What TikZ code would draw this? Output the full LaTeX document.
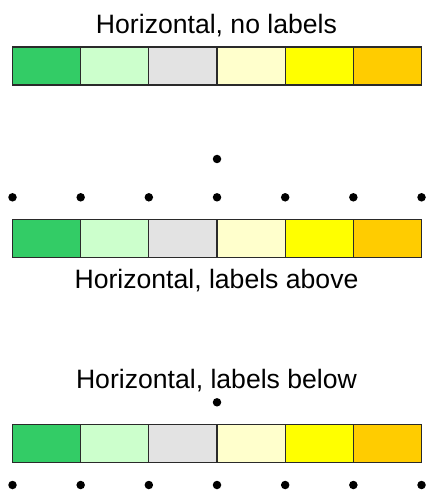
\documentclass[tikz,border=0pt]{standalone}
\usepackage{fontspec}
\setmainfont{Liberation Sans}
\definecolor{c1}{HTML}{33CC66}
\definecolor{c2}{HTML}{CCFFCC}
\definecolor{c3}{HTML}{E3E3E3}
\definecolor{c4}{HTML}{FFFFCC}
\definecolor{c5}{HTML}{FFFF00}
\definecolor{c6}{HTML}{FFCC00}
\definecolor{edge}{HTML}{2A2A2A}
\begin{document}
\begin{tikzpicture}[x=1bp,y=-1bp,
  cell/.style={draw=edge,line width=1.3bp,minimum width=68.17bp,minimum height=38bp,inner sep=0pt,outer sep=0pt,anchor=north west},
  title/.style={font=\fontsize{26.6bp}{30bp}\selectfont,anchor=base,inner sep=0pt},
  tick/.style={circle,fill=black,inner sep=0pt,minimum size=8.5bp}]
\useasboundingbox[fill=white] (0,0) rectangle (427,493);
% --- bar 1
\node[title] (t1) at (216.5,33.3) {Horizontal, no labels};
\foreach \i in {1,...,6}{
  \node[cell,fill=c\i] (a\i) at ({12.5+68.17*(\i-1)},47) {};
}
% --- bar 2
\foreach \i in {0,...,6}{
  \node[tick] (b\i) at ({12.5+68.17*\i},197.3) {};
}
\node[tick] (bm) at (217,159) {};
\foreach \i in {1,...,6}{
  \node[cell,fill=c\i] (b\i c) at ({12.5+68.17*(\i-1)},219.3) {};
}
\node[title] (t2) at (216.5,288.3) {Horizontal, labels above};
% --- bar 3
\node[title] (t3) at (216.5,388.3) {Horizontal, labels below};
\node[tick] (cm) at (217,402.3) {};
\foreach \i in {1,...,6}{
  \node[cell,fill=c\i] (c\i c) at ({12.5+68.17*(\i-1)},424.3) {};
}
\foreach \i in {0,...,6}{
  \node[tick] (c\i) at ({12.5+68.17*\i},485) {};
}
\end{tikzpicture}
\end{document}
